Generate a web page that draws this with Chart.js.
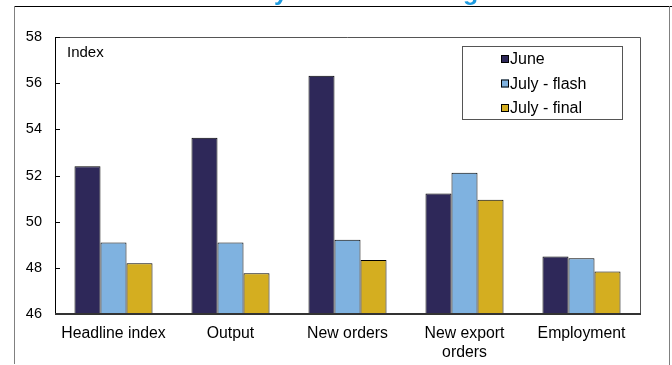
<!DOCTYPE html>
<html>
<head>
<meta charset="utf-8">
<script src="https://cdn.jsdelivr.net/npm/chart.js@4/dist/chart.umd.min.js"></script>
<style>
html,body{margin:0;padding:0;background:#fff;}
#wrap{position:relative;width:672px;height:365px;}
</style>
</head>
<body>
<div id="wrap"><canvas id="c" width="672" height="365"></canvas></div>
<script>
const categories = ["Headline index", "Output", "New orders", ["New export", "orders"], "Employment"];
const june = [52.4, 53.63, 56.32, 51.22, 48.49];
const julyFlash = [49.1, 49.1, 49.22, 52.12, 48.42];
const julyFinal = [48.2, 47.77, 48.34, 50.95, 47.84];
const seriesNames = ["June", "July - flash", "July - final"];
const yMin = 46, yMax = 58, yStep = 2;
const titleText = "Flash July vs final readings";
const axisTitle = "Index";

const FONT = "'Liberation Sans', Arial, sans-serif";

const framePlugin = {
  id: 'frame',
  afterDraw(chart) {
    const ctx = chart.ctx;
    const a = chart.chartArea;
    ctx.save();
    // clipped title at top
    ctx.font = "bold 25px " + FONT;
    ctx.fillStyle = "#1E9BE0";
    ctx.textBaseline = "alphabetic";
    ctx.textAlign = "left";
    const pre = ctx.measureText("Flash Jul").width;
    ctx.fillText(titleText, 274 - pre, 0);
    // outer frame
    ctx.strokeStyle = "#000";
    ctx.lineWidth = 1;
    ctx.beginPath(); ctx.moveTo(14, 6.5); ctx.lineTo(672, 6.5); ctx.stroke();
    ctx.strokeStyle = "#808080";
    ctx.beginPath(); ctx.moveTo(14.5, 6); ctx.lineTo(14.5, 364); ctx.stroke();
    ctx.beginPath(); ctx.moveTo(669.5, 6); ctx.lineTo(669.5, 365); ctx.stroke();
    // plot border top & right
    ctx.strokeStyle = "#555";
    ctx.beginPath();
    ctx.moveTo(a.left, a.top + 0.5); ctx.lineTo(a.right + 0.5, a.top + 0.5); ctx.lineTo(a.right + 0.5, a.bottom);
    ctx.stroke();
    // y axis line
    ctx.strokeStyle = "#000";
    ctx.beginPath(); ctx.moveTo(a.left + 0.5, a.top); ctx.lineTo(a.left + 0.5, a.bottom); ctx.stroke();
    // inward ticks
    const ys = chart.scales.y;
    ys.ticks.forEach(t => {
      const py = Math.round(ys.getPixelForValue(t.value)) + 0.5;
      ctx.beginPath(); ctx.moveTo(a.left, py); ctx.lineTo(a.left + 5, py); ctx.stroke();
    });
    // bottom axis line
    ctx.strokeStyle = "#333";
    ctx.lineWidth = 2;
    ctx.beginPath(); ctx.moveTo(a.left, a.bottom); ctx.lineTo(a.right + 1, a.bottom); ctx.stroke();
    // axis title
    ctx.font = "15px " + FONT;
    ctx.fillStyle = "#000";
    ctx.textBaseline = "middle";
    ctx.fillText(axisTitle, a.left + 12, a.top + 16);
    // legend
    const lx = 462, ly = 46, lw = 160, lh = 73;
    ctx.lineWidth = 1;
    ctx.strokeStyle = "#555";
    ctx.fillStyle = "#fff";
    ctx.fillRect(lx, ly, lw, lh);
    ctx.strokeRect(lx + 0.5, ly + 0.5, lw, lh);
    ctx.font = "16px " + FONT;
    chart.data.datasets.forEach((ds, i) => {
      const cy = ly + 13 + i * 24.5;
      ctx.fillStyle = ds.backgroundColor;
      ctx.fillRect(501, cy - 4, 8, 8);
      ctx.strokeStyle = "#000";
      ctx.strokeRect(501.5, cy - 3.5, 7, 7);
      ctx.fillStyle = "#000";
      ctx.textBaseline = "middle";
      ctx.fillText(ds.label, 510, cy + 1);
    });
    ctx.restore();
  }
};

new Chart(document.getElementById('c'), {
  type: 'bar',
  data: {
    labels: categories,
    datasets: [
      { label: seriesNames[0], data: june, backgroundColor: "#2E2859" },
      { label: seriesNames[1], data: julyFlash, backgroundColor: "#7FB2E0" },
      { label: seriesNames[2], data: julyFinal, backgroundColor: "#D4AE20" }
    ].map(d => Object.assign(d, { borderColor: "#000", borderWidth: 1, borderSkipped: 'bottom' }))
  },
  options: {
    responsive: false,
    animation: false,
    devicePixelRatio: 1,
    layout: { padding: { top: 37, right: 32, left: 0, bottom: 0 } },
    plugins: { legend: { display: false }, tooltip: { enabled: false }, title: { display: false } },
    datasets: { bar: { categoryPercentage: 0.667, barPercentage: 1.0 } },
    scales: {
      x: {
        grid: { display: false, drawTicks: false },
        border: { display: false },
        ticks: { color: "#000", font: { family: FONT, size: 15.8, lineHeight: 1.2 }, padding: 10, maxRotation: 0, autoSkip: false },
        afterFit: s => { s.height = 51; }
      },
      y: {
        min: yMin, max: yMax,
        grid: { display: false, drawTicks: false },
        border: { display: false },
        ticks: { stepSize: yStep, color: "#000", font: { family: FONT, size: 14.5 }, padding: 13 },
        afterFit: s => { s.width = 55; }
      }
    }
  },
  plugins: [framePlugin]
});
</script>
</body>
</html>
